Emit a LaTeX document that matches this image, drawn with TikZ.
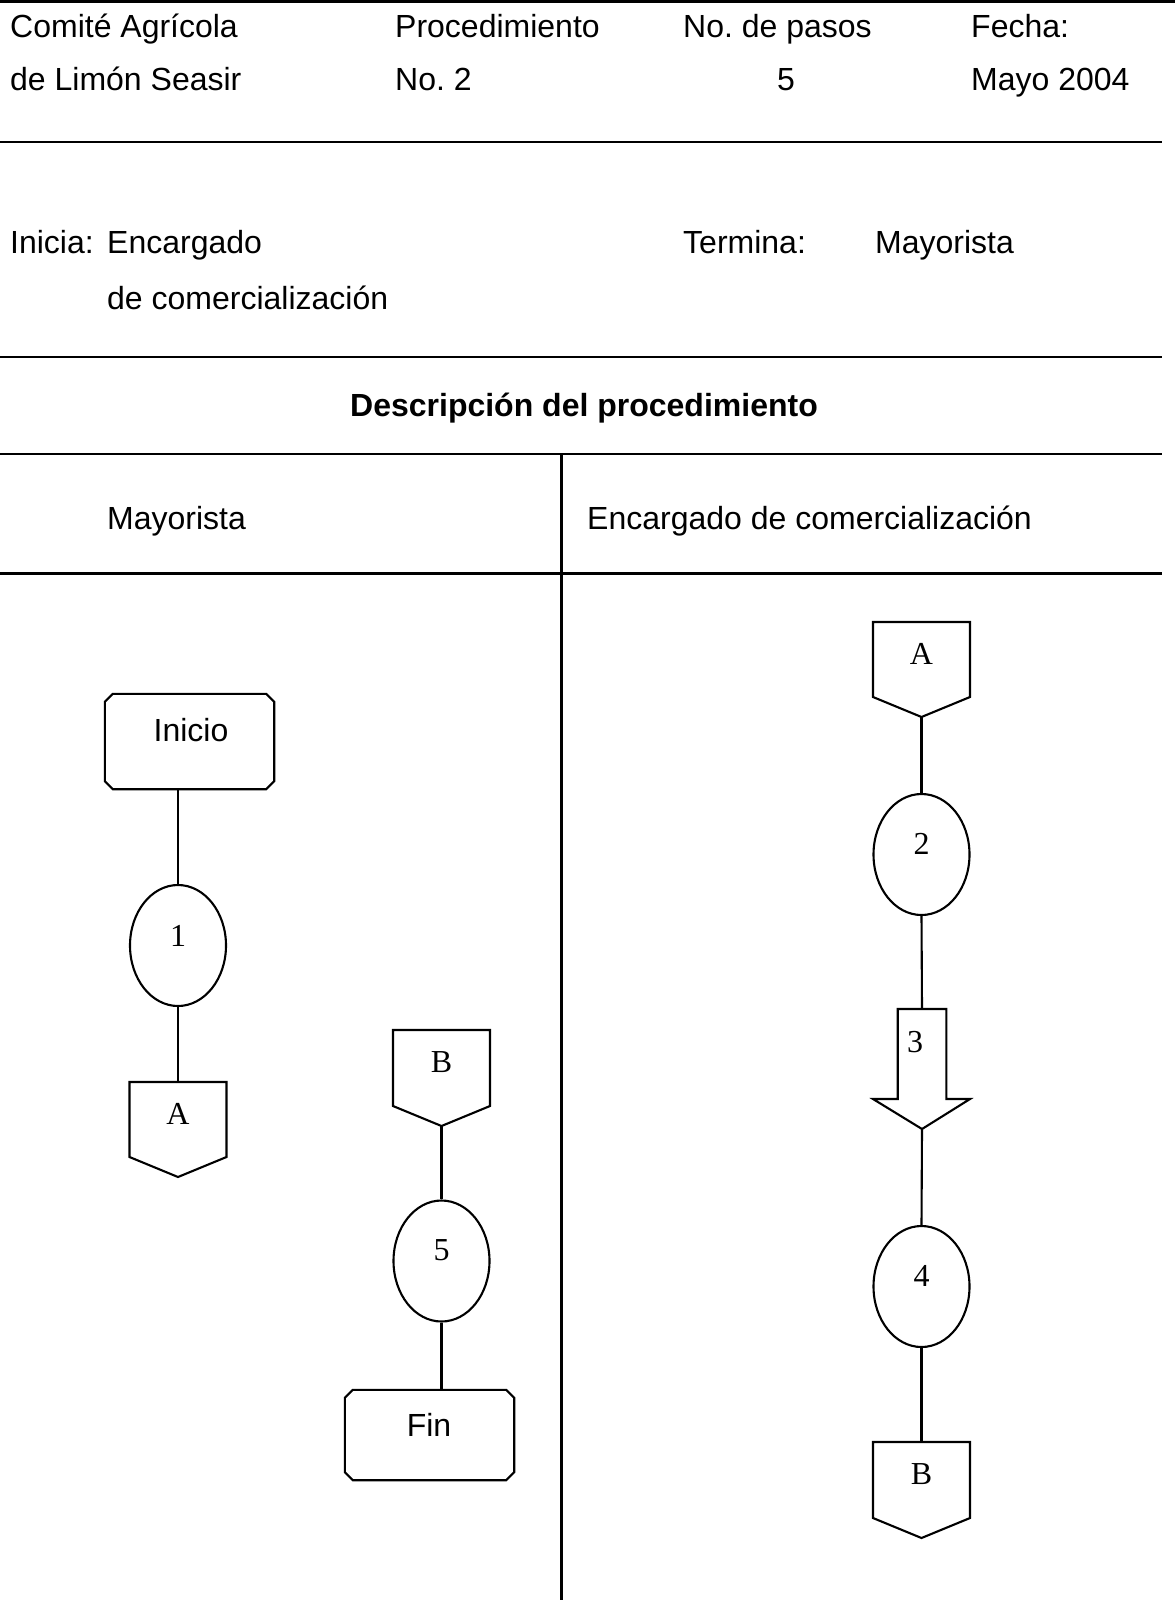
\documentclass[tikz,border=0pt]{standalone}
\usepackage{fontspec}
\setmainfont{Liberation Sans}
\newfontfamily\serifnum{Liberation Serif}
\usetikzlibrary{shapes.geometric}
\frenchspacing
\tikzset{
  sline/.style={line width=2.1pt, line join=miter},
  hdr/.style={font=\fontsize{32}{38}\selectfont, anchor=base west, inner sep=0pt},
  hdrb/.style={font=\bfseries\fontsize{32}{38}\selectfont, anchor=base, inner sep=0pt},
  lbl/.style={font=\serifnum\fontsize{32}{38}\selectfont, anchor=base, inner sep=0pt},
  tlbl/.style={font=\fontsize{32}{38}\selectfont, anchor=base, inner sep=0pt},
  oval/.style={draw, sline, ellipse, minimum width=96pt, minimum height=121pt, inner sep=0pt},
  termbox/.style={rectangle, minimum width=169pt, inner sep=0pt},
}
\newcommand\chamf[1]{%
  \draw[sline] ([xshift=8pt]#1.north west) -- ([xshift=-8pt]#1.north east)
    -- ([yshift=-8pt]#1.north east) -- ([yshift=8pt]#1.south east)
    -- ([xshift=-8pt]#1.south east) -- ([xshift=8pt]#1.south west)
    -- ([yshift=8pt]#1.south west) -- ([yshift=-8pt]#1.north west) -- cycle;}
\newcommand\offpg[5]{%
  \coordinate (#1t) at (#2,#3);
  \coordinate (#1b) at (#2,#4);
  \draw[sline] (#2-48.5,#3) -- (#2+48.5,#3) -- (#2+48.5,#4-20) -- (#2,#4) -- (#2-48.5,#4-20) -- cycle;
  \node[lbl] (#1l) at (#2,#3+42) {#5};}
\begin{document}
\begin{tikzpicture}[x=1pt,y=-1pt]
\useasboundingbox (0,0) rectangle (1175,1600);
% header lines
\coordinate (l0a) at (0,1.5);   \coordinate (l0b) at (1175,1.5);
\coordinate (l1a) at (0,142);   \coordinate (l1b) at (1162,142);
\coordinate (l2a) at (0,357);   \coordinate (l2b) at (1162,357);
\coordinate (l3a) at (0,454);   \coordinate (l3b) at (1162,454);
\coordinate (l4a) at (0,573.5); \coordinate (l4b) at (1162,573.5);
\coordinate (vt) at (561.5,454); \coordinate (vb) at (561.5,1600);
\draw[sline] (l0a) -- (l0b);
\draw[sline] (l1a) -- (l1b);
\draw[sline] (l2a) -- (l2b);
\draw[sline] (l3a) -- (l3b);
\draw[sline] (l4a) -- (l4b);
\draw[sline] (vt) -- (vb);
% header texts
\node[hdr] (h1) at (10,38) {Comité Agrícola};
\node[hdr] (h2) at (10,91) {de Limón Seasir};
\node[hdr] (h3) at (395,38) {Procedimiento};
\node[hdr] (h4) at (395,91) {No. 2};
\node[hdr] (h5) at (683,38) {No. de pasos};
\node[tlbl] (h6) at (786,91) {5};
\node[hdr] (h7) at (971,38) {Fecha:};
\node[hdr] (h8) at (971,91) {Mayo 2004};
\node[hdr] (i1) at (10,253.5) {Inicia:};
\node[hdr] (i2) at (107,253.5) {Encargado};
\node[hdr] (i3) at (107,309.5) {de comercialización};
\node[hdr] (t1) at (683,253.5) {Termina:};
\node[hdr] (t2) at (875,253.5) {Mayorista};
\node[hdrb] (desc) at (584,416.5) {Descripción del procedimiento};
\node[hdr] (c1) at (107,529) {Mayorista};
\node[hdr] (c2) at (587,529) {Encargado de comercialización};
% left lane
\node[termbox, minimum height=95pt] (inicio) at (189.5,741.5) {};
\chamf{inicio}
\node[tlbl] (inicioL) at (191,741.5) {Inicio};
\node[oval] (e1) at (178,945.5) {};
\node[lbl] (e1L) at (178,946) {1};
\offpg{ao}{178}{1082}{1177}{A}
\draw[sline] (e1.north |- inicio.south) -- (e1.north);
\draw[sline] (e1.south) -- (aot);
\offpg{bi}{441.5}{1030}{1126}{B}
\node[oval] (e5) at (441.5,1261) {};
\node[lbl] (e5L) at (441.5,1260) {5};
\node[termbox, minimum height=90pt] (fin) at (429.5,1435) {};
\chamf{fin}
\node[tlbl] (finL) at (429,1436) {Fin};
\draw[sline] (bib) -- (e5.north);
\draw[sline] (e5.south) -- (e5.south |- fin.north);
% right lane
\offpg{ai}{921.5}{622}{717}{A}
\node[oval] (e2) at (921.5,854.5) {};
\node[lbl] (e2L) at (921.5,854) {2};
\coordinate (a3t) at (922,1009);
\coordinate (a3b) at (922,1129);
\draw[sline] (897.7,1009) -- (946.3,1009) -- (946.3,1099) -- (970,1099) -- (a3b) -- (873,1099) -- (897.7,1099) -- cycle;
\node[lbl] (a3L) at (915,1052) {3};
\node[oval] (e4) at (921.5,1286.5) {};
\node[lbl] (e4L) at (921.5,1286) {4};
\offpg{bo}{921.5}{1442}{1538}{B}
\draw[sline] (aib) -- (e2.north);
\draw[sline] (e2.south) -- (a3t);
\draw[sline] (a3b) -- (e4.north);
\draw[sline] (e4.south) -- (bot);
\end{tikzpicture}
\end{document}
